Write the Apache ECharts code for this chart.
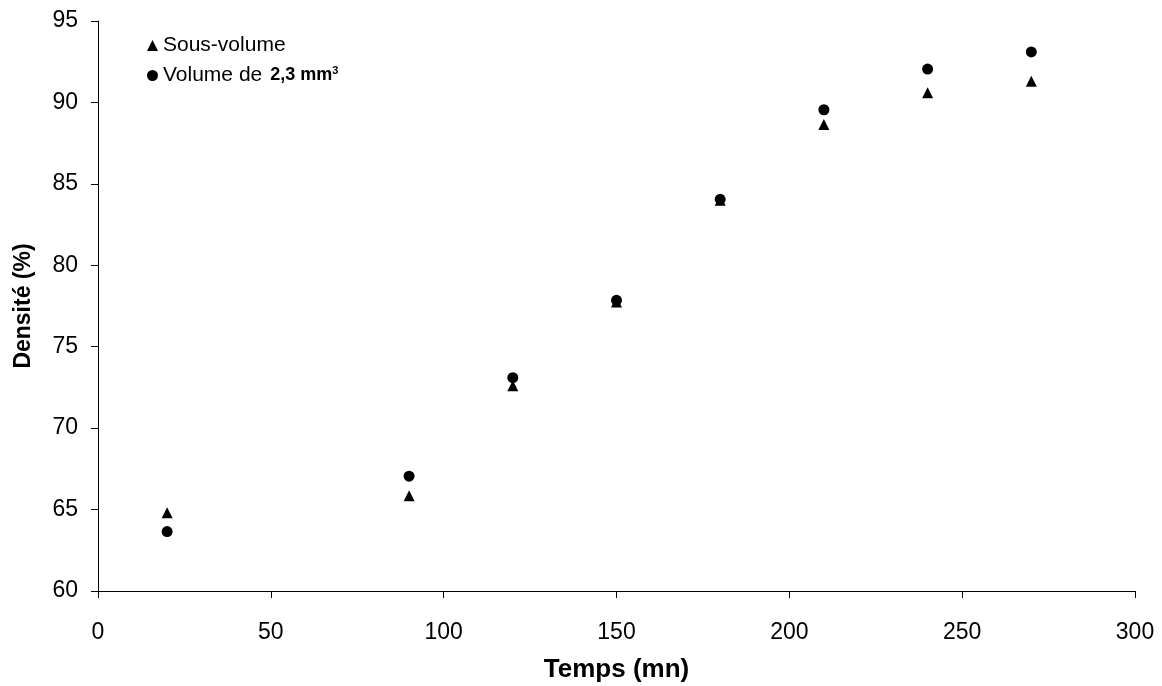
<!DOCTYPE html>
<html><head><meta charset="utf-8">
<script src="https://cdn.jsdelivr.net/npm/echarts@6/dist/echarts.min.js"></script>
<style>html,body{margin:0;padding:0;background:#fff}#c{width:1162px;height:686px}</style>
</head><body><div id="c"></div>
<script>
const temps = [20, 90, 120, 150, 180, 210, 240, 270];
const sousVolume = [64.8, 65.85, 72.6, 77.75, 84.0, 88.65, 90.6, 91.3];
const volume23 = [63.65, 67.05, 73.1, 77.85, 84.05, 89.55, 92.05, 93.1];
const xTicks = [0, 50, 100, 150, 200, 250, 300];
const yTicks = [60, 65, 70, 75, 80, 85, 90, 95];

const font = 'Liberation Sans, Arial, sans-serif';
const chart = echarts.init(document.getElementById('c'), null, {renderer: 'canvas'});
chart.setOption({
  animation: false,
  backgroundColor: '#fff',
  grid: {left: 98, right: 27, top: 21, bottom: 95, containLabel: false, outerBoundsMode: 'none'},
  legend: {
    orient: 'vertical', left: 142, top: 30, itemGap: 9,
    itemWidth: 11, itemHeight: 11,
    textStyle: {fontFamily: font, fontSize: 21, color: '#000',
      rich: {
        b: {fontFamily: font, fontSize: 18, fontWeight: 'bold', color: '#000', padding: [0,0,0,8]},
        s: {fontFamily: font, fontSize: 11, fontWeight: 'bold', color: '#000', verticalAlign: 'top', padding: [0,0,10,0]}
      }},
    formatter: function (n) {
      if (n === 'Volume de 2,3 mm³') return 'Volume de{b|2,3 mm}{s|3}';
      return n;
    },
    data: [{name: 'Sous-volume', icon: 'triangle'}, {name: 'Volume de 2,3 mm³', icon: 'circle'}]
  },
  xAxis: {
    type: 'value', min: xTicks[0], max: xTicks[xTicks.length - 1], interval: 50,
    name: 'Temps (mn)', nameLocation: 'middle', nameGap: 66,
    nameTextStyle: {fontFamily: font, fontSize: 26, fontWeight: 'bold', color: '#000'},
    axisLine: {show: true, lineStyle: {color: '#000', width: 1}},
    axisTick: {show: true, inside: false, length: 7, lineStyle: {color: '#000'}},
    axisLabel: {fontFamily: font, fontSize: 23, color: '#000', margin: 30},
    splitLine: {show: false}
  },
  yAxis: {
    type: 'value', min: yTicks[0], max: yTicks[yTicks.length - 1], interval: 5,
    name: 'Densité (%)', nameLocation: 'middle', nameGap: 63,
    nameTextStyle: {fontFamily: font, fontSize: 23, fontWeight: 'bold', color: '#000'},
    axisLine: {show: true, lineStyle: {color: '#000', width: 1}},
    axisTick: {show: true, inside: false, length: 7, lineStyle: {color: '#000'}},
    axisLabel: {fontFamily: font, fontSize: 23, color: '#000', margin: 20},
    splitLine: {show: false}
  },
  series: [
    {name: 'Sous-volume', type: 'scatter', symbol: 'triangle', symbolSize: 11,
     itemStyle: {color: '#000', opacity: 1}, data: temps.map((t, i) => [t, sousVolume[i]])},
    {name: 'Volume de 2,3 mm³', type: 'scatter', symbol: 'circle', symbolSize: 11,
     itemStyle: {color: '#000', opacity: 1}, data: temps.map((t, i) => [t, volume23[i]])}
  ]
});
</script></body></html>
